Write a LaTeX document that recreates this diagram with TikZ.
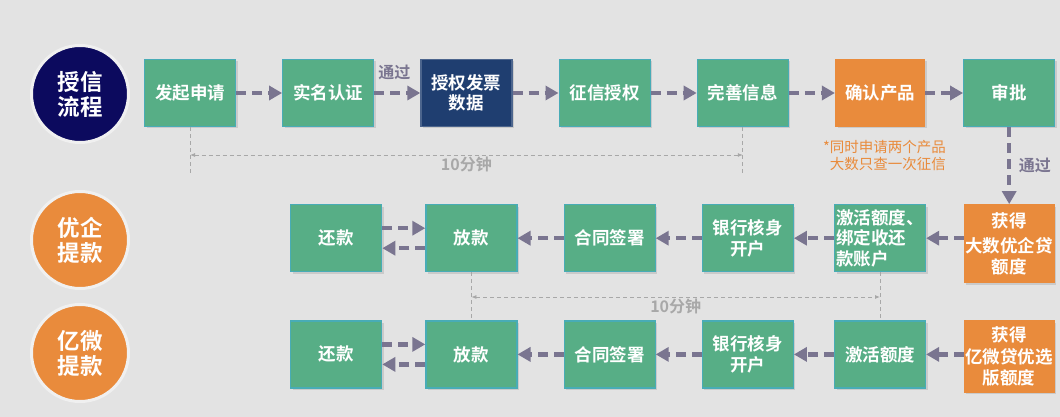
\documentclass[tikz,border=0pt]{standalone}
\usepackage{fontspec}
\newfontfamily\cjkfont[BoldFont={Noto Sans CJK SC Bold}]{Noto Sans CJK SC}
\usetikzlibrary{arrows.meta,positioning,shadows}
\definecolor{bggray}{RGB}{227,227,227}
\definecolor{boxgreen}{RGB}{87,174,134}
\definecolor{boxedge}{RGB}{72,172,182}
\definecolor{boxnavy}{RGB}{31,62,112}
\definecolor{circnavy}{RGB}{12,10,94}
\definecolor{boxorange}{RGB}{233,139,60}
\definecolor{flowgray}{RGB}{122,117,144}
\definecolor{dimgray}{RGB}{168,168,168}

\begin{document}
\begin{tikzpicture}[
  x=1pt, y=-1pt,
  node distance=46pt,
  box/.style={draw=boxedge, line width=1.2pt, fill=boxgreen, text=white,
    minimum width=91pt, minimum height=67pt, inner sep=1pt, align=center,
    font=\cjkfont\bfseries\fontsize{17.5}{20.5}\selectfont,
    drop shadow={shadow xshift=2pt, shadow yshift=-2pt, opacity=0.25}},
  navybox/.style={box, draw=boxnavy!80!white, fill=boxnavy},
  orangebox/.style={box, draw=boxorange, fill=boxorange, minimum width=89pt},
  badge/.style={circle, draw=white!94!black, line width=3pt, minimum size=97pt,
    text=white, align=center, font=\cjkfont\bfseries\fontsize{22.5}{25}\selectfont},
  flow/.style={-{Triangle[length=13pt,width=14pt]}, line width=4.5pt, flowgray,
    dash pattern=on 10pt off 6pt},
  dimline/.style={dimgray, line width=0.8pt, dash pattern=on 4pt off 3pt},
  dimtip/.style={{Latex[length=5pt,width=4pt]}-{Latex[length=5pt,width=4pt]}},
  passlabel/.style={text=flowgray, font=\cjkfont\bfseries\fontsize{16}{18}\selectfont},
  timelabel/.style={text=dimgray, inner sep=1pt, font=\cjkfont\bfseries\fontsize{16}{18}\selectfont},
  note/.style={text=boxorange, align=right, inner sep=0pt, font=\cjkfont\fontsize{14.5}{17}\selectfont}
]
\fill[bggray] (0,0) rectangle (1060,417);
\useasboundingbox (0,0) rectangle (1060,417);

% row badges
\node[badge, fill=circnavy] (shouxin) at (80,94) {授信\\流程};
\node[badge, fill=boxorange] (youqi) at (80,240) {优企\\提款};
\node[badge, fill=boxorange] (yiwei) at (80,353) {亿微\\提款};

% credit flow
\node[box] (faqi) at (190,93) {发起申请};
\node[box, right=of faqi] (shiming) {实名认证};
\node[navybox, right=of shiming] (shouquan) {授权发票\\数据};
\node[box, right=of shouquan] (zhengxin) {征信授权};
\node[box, right=of zhengxin] (wanshan) {完善信息};
\node[orangebox, right=of wanshan] (queren) {确认产品};
\node[box, right=38pt of queren] (shenpi) {审批};
\node[note, anchor=north east] (tishi) at ([xshift=21pt, yshift=-13pt]queren.south east)
  {*同时申请两个产品\\大数只查一次征信};

% youqi withdrawal
\node[box, below=77pt of queren, align=left] (jihuo1) {激活额度、\\绑定收还\\款账户};
\node[orangebox, below=77pt of shenpi, minimum height=78pt] (huode1) {获得\\[5pt]大数优企贷\\额度};
\node[box, left=40pt of jihuo1] (yinhang1) {银行核身\\开户};
\node[box, left=of yinhang1] (hetong1) {合同签署};
\node[box, left=of hetong1] (fangkuan1) {放款};
\node[box, left=43pt of fangkuan1] (huankuan1) {还款};

% yiwei withdrawal
\node[box, below=48pt of jihuo1] (jihuo2) {激活额度};
\node[orangebox, below=37pt of huode1, minimum height=71pt] (huode2) {获得\\[2pt]亿微贷优选\\版额度};
\node[box, below=48pt of yinhang1] (yinhang2) {银行核身\\开户};
\node[box, below=48pt of hetong1] (hetong2) {合同签署};
\node[box, below=48pt of fangkuan1] (fangkuan2) {放款};
\node[box, below=48pt of huankuan1] (huankuan2) {还款};

\draw[flow] (faqi) -- (shiming);
\draw[flow] (shiming) -- (shouquan) node[midway, above=8pt, xshift=-3pt, passlabel] (tongguo1) {通过};
\draw[flow] (shouquan) -- (zhengxin);
\draw[flow] (zhengxin) -- (wanshan);
\draw[flow] (wanshan) -- (queren);
\draw[flow] (queren) -- (shenpi);
\draw[flow] (shenpi) -- (huode1) node[midway, right=4pt, passlabel] (tongguo2) {通过};

\draw[flow] (huode1.west |- jihuo1.east) -- (jihuo1.east);
\draw[flow] (jihuo1) -- (yinhang1);
\draw[flow] (yinhang1) -- (hetong1);
\draw[flow] (hetong1) -- (fangkuan1);
\draw[flow] ([yshift=10pt]huankuan1.east) -- ([yshift=10pt]fangkuan1.west);
\draw[flow] ([yshift=-10pt]fangkuan1.west) -- ([yshift=-10pt]huankuan1.east);

\draw[flow] (huode2.west |- jihuo2.east) -- (jihuo2.east);
\draw[flow] (jihuo2) -- (yinhang2);
\draw[flow] (yinhang2) -- (hetong2);
\draw[flow] (hetong2) -- (fangkuan2);
\draw[flow] ([yshift=10pt]huankuan2.east) -- ([yshift=10pt]fangkuan2.west);
\draw[flow] ([yshift=-10pt]fangkuan2.west) -- ([yshift=-10pt]huankuan2.east);

% timing marks
\coordinate (dimtop) at (0,155);
\coordinate (ticktop) at (0,175);
\draw[dimline] (faqi.south) -- (faqi.south |- ticktop);
\draw[dimline] (wanshan.south) -- (wanshan.south |- ticktop);
\draw[dimline, dimtip] (faqi.south |- dimtop) -- (wanshan.south |- dimtop)
  node[midway, below=1pt, timelabel] (shijian1) {10分钟};

\coordinate (dimmid) at (0,297);
\draw[dimline] (fangkuan1.south) -- (fangkuan2.north);
\draw[dimline] (jihuo1.south) -- (jihuo2.north);
\draw[dimline, dimtip] (fangkuan1.south |- dimmid) -- (jihuo1.south |- dimmid)
  node[midway, below=1pt, timelabel] (shijian2) {10分钟};
\end{tikzpicture}
\end{document}
